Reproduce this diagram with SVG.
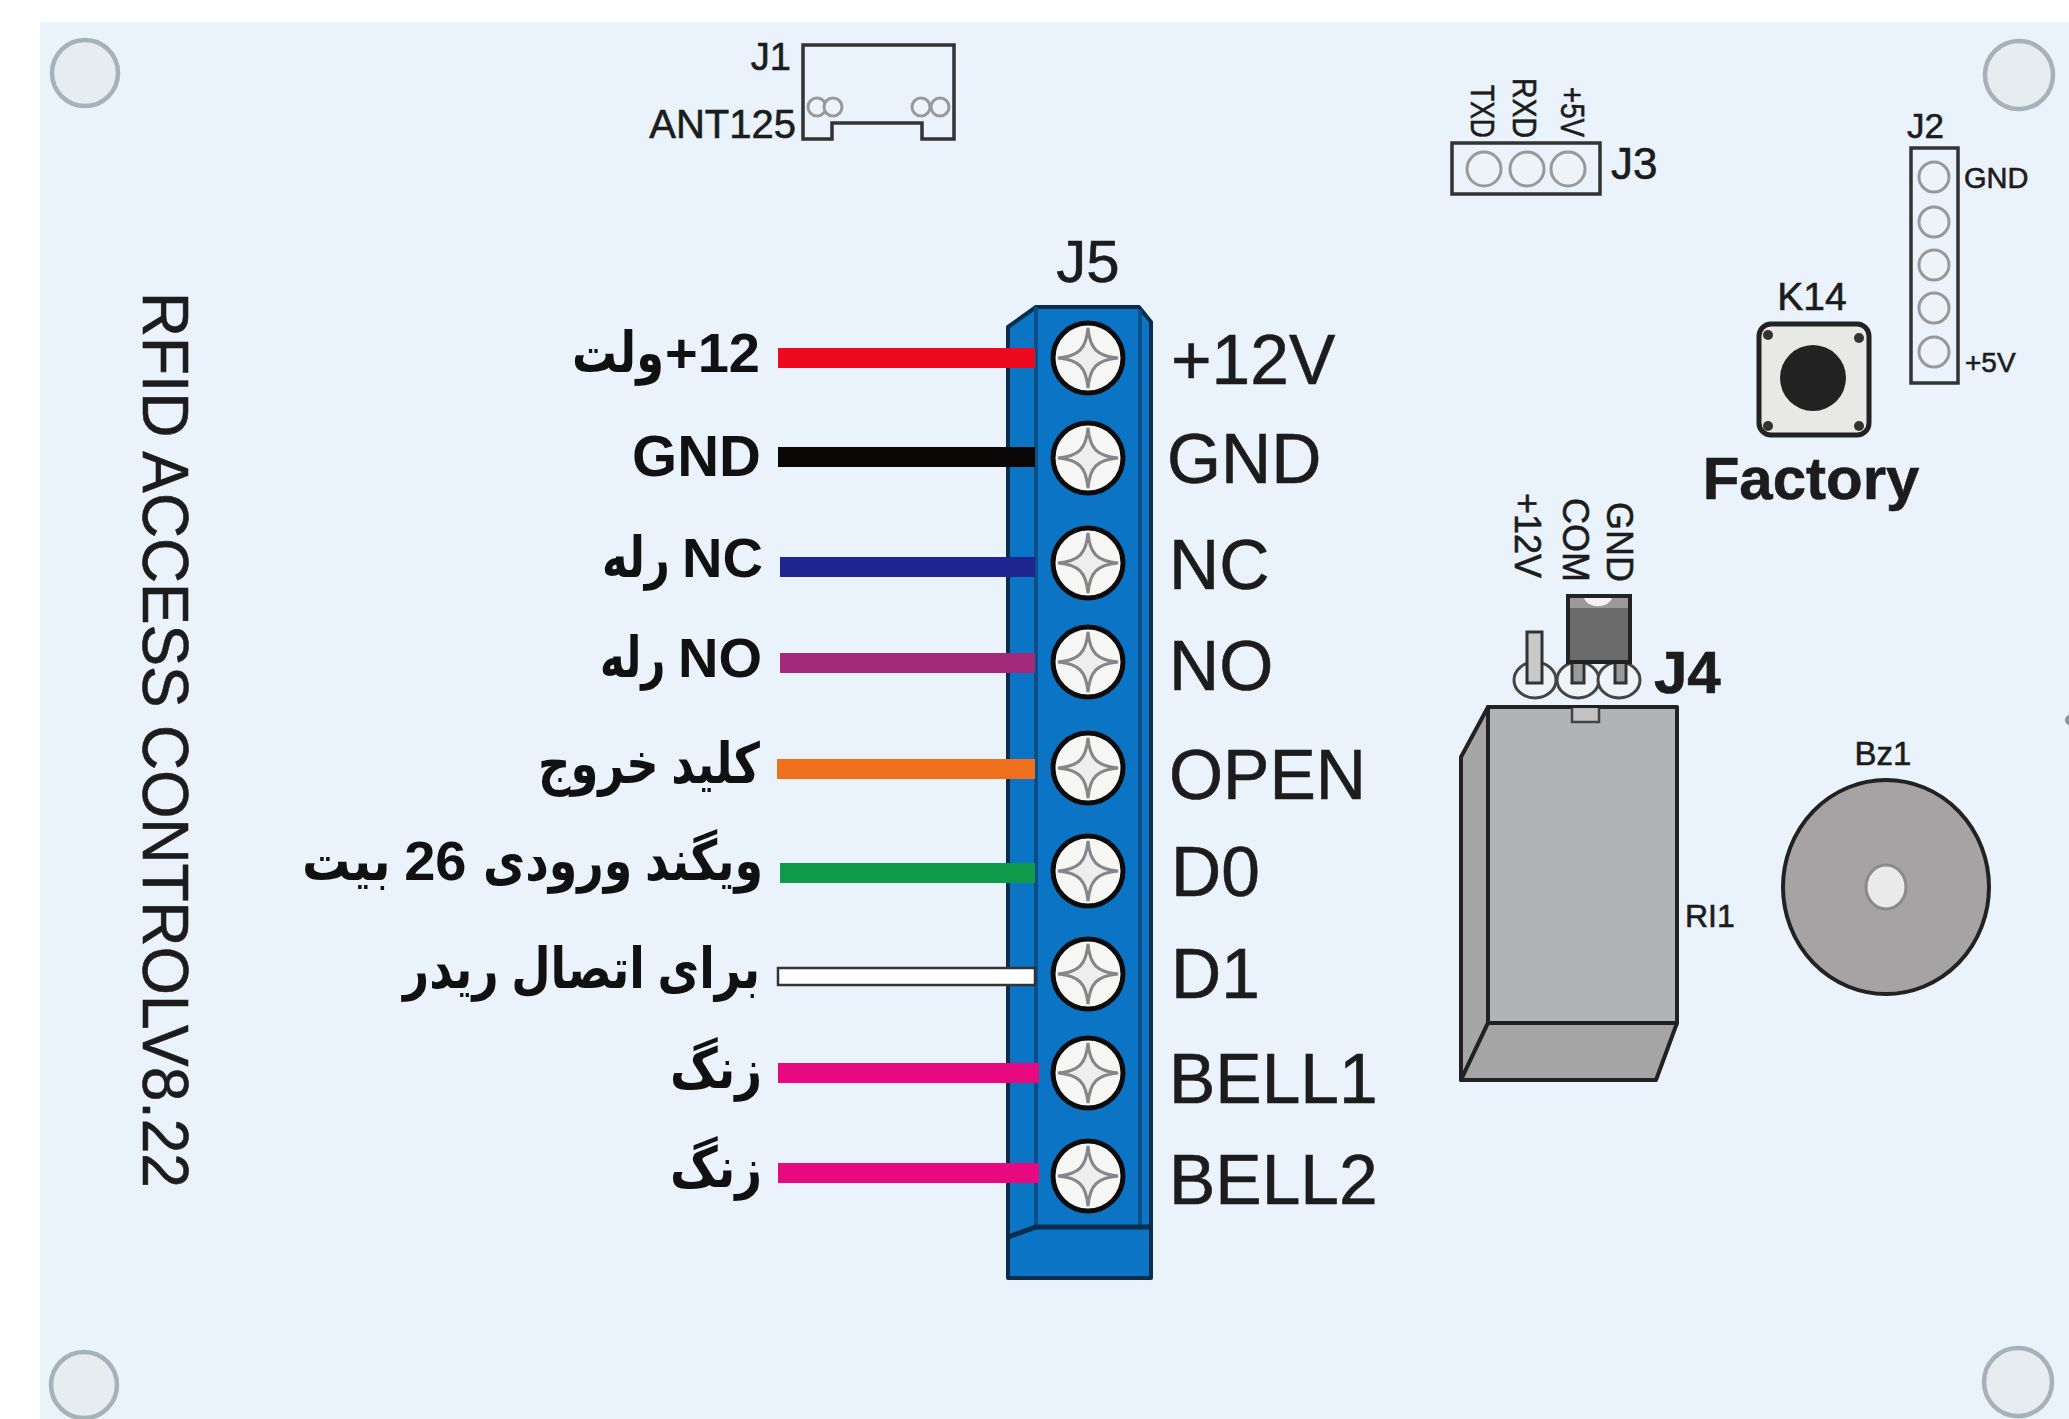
<svg xmlns="http://www.w3.org/2000/svg" width="2069" height="1419" viewBox="0 0 2069 1419">
<style>
text{font-family:"Liberation Sans","DejaVu Sans",sans-serif;fill:#1c1c1c;stroke:#1c1c1c;stroke-width:.6}
.term{font-size:69.5px}
.fa{font-size:56px;font-weight:bold;direction:rtl;text-anchor:start;fill:#111;stroke:none;font-family:"Liberation Sans","DejaVu Sans",sans-serif}
.hole{fill:#e6ecef;stroke:#a5b3b8;stroke-width:4.5}
.pcb{fill:none;stroke:#333;stroke-width:3.5}
.pin{fill:#eef3f8;stroke:#999;stroke-width:3}
.wire{stroke-width:20;fill:none}
.pad{fill:#eef3f8;stroke:#444;stroke-width:3}
.dark{fill:#6b6b6b;stroke:#222;stroke-width:4}
.edge{stroke:#222;stroke-width:4;stroke-linejoin:round}
</style>
<defs>
<g id="screw">
<circle r="35" fill="#f6f6f4" stroke="#0b0b0b" stroke-width="5"/>
<path d="M0-30C2-9 9-2 30 0C9 2 2 9 0 30C-2 9-9 2-30 0C-9-2-2-9 0-30Z" fill="#eeeeee" stroke="#85858a" stroke-width="3"/>
</g>
</defs>
<rect id="background" width="2069" height="1419" fill="#fff"/>
<rect id="board" x="40" y="22" width="2029" height="1397" fill="#eaf2fb"/>
<g id="mount-holes">
<circle class="hole" cx="85" cy="73" r="33"/>
<circle class="hole" cx="2019" cy="75" r="34"/>
<circle class="hole" cx="84" cy="1385" r="33"/>
<circle class="hole" cx="2018" cy="1382" r="34"/>
<circle cx="2070" cy="720" r="5" fill="#8a949a"/>
</g>
<text id="board-title" transform="translate(143 292) rotate(90)" font-size="64" textLength="896" lengthAdjust="spacingAndGlyphs">RFID ACCESS CONTROLV8.22</text>

<g id="J1">
<path class="pcb" d="M803 45H954V139H922V123H832V139H803Z"/>
<circle class="pin" cx="817" cy="107" r="9"/><circle class="pin" cx="833" cy="107" r="9"/>
<circle class="pin" cx="921" cy="107" r="9"/><circle class="pin" cx="940" cy="107" r="9"/>
<text x="791" y="70" font-size="38" text-anchor="end">J1</text>
<text x="796" y="138" font-size="40" text-anchor="end">ANT125</text>
</g>

<g id="J3">
<rect class="pcb" x="1452" y="143" width="148" height="51"/>
<circle class="pin" cx="1484" cy="169" r="17"/><circle class="pin" cx="1527" cy="169" r="17"/><circle class="pin" cx="1568" cy="169" r="17"/>
<text transform="translate(1471 85) rotate(90)" font-size="34" textLength="53" lengthAdjust="spacingAndGlyphs">TXD</text>
<text transform="translate(1513 78) rotate(90)" font-size="34" textLength="60" lengthAdjust="spacingAndGlyphs">RXD</text>
<text transform="translate(1561 87) rotate(90)" font-size="34" textLength="50" lengthAdjust="spacingAndGlyphs">+5V</text>
<text x="1611" y="179" font-size="44">J3</text>
</g>

<g id="J2">
<rect class="pcb" x="1911" y="148" width="47" height="235"/>
<circle class="pin" cx="1934" cy="177" r="15"/><circle class="pin" cx="1934" cy="222" r="15"/><circle class="pin" cx="1934" cy="265" r="15"/><circle class="pin" cx="1934" cy="308" r="15"/><circle class="pin" cx="1934" cy="352" r="15"/>
<text x="1907" y="138" font-size="35">J2</text>
<text x="1964" y="188" font-size="29">GND</text>
<text x="1965" y="372" font-size="28">+5V</text>
</g>

<g id="K14">
<text x="1812" y="310" font-size="39" text-anchor="middle">K14</text>
<rect x="1759" y="324" width="110" height="111" rx="12" fill="#e8e8e6" stroke="#222" stroke-width="5"/>
<circle cx="1813" cy="378" r="33" fill="#222"/>
<circle cx="1768" cy="335" r="5" fill="#333"/><circle cx="1859" cy="338" r="5" fill="#333"/>
<circle cx="1768" cy="426" r="5" fill="#333"/><circle cx="1859" cy="426" r="5" fill="#333"/>
<text x="1811" y="499" font-size="60" font-weight="bold" text-anchor="middle">Factory</text>
</g>

<g id="J4">
<text transform="translate(1515 493) rotate(90)" font-size="36">+12V</text>
<text transform="translate(1563 498) rotate(90)" font-size="36">COM</text>
<text transform="translate(1607 502) rotate(90)" font-size="36">GND</text>
<ellipse class="pad" cx="1535" cy="680" rx="21" ry="18"/>
<ellipse class="pad" cx="1578" cy="680" rx="21" ry="18"/>
<ellipse class="pad" cx="1619" cy="680" rx="21" ry="18"/>
<rect x="1527" y="632" width="15" height="51" fill="#c9c9c9" stroke="#333" stroke-width="3"/>
<rect x="1572" y="660" width="12" height="23" fill="#9a9a9a" stroke="#333" stroke-width="3"/>
<rect x="1615" y="660" width="11" height="23" fill="#9a9a9a" stroke="#333" stroke-width="3"/>
<rect class="dark" x="1568" y="596" width="62" height="66"/>
<rect x="1570" y="598" width="58" height="10" fill="#9a9a9a"/>
<path d="M1584 598H1612C1608 609 1588 609 1584 598Z" fill="#f2f2f2"/>
<text x="1654" y="693" font-size="60" font-weight="bold">J4</text>
</g>

<g id="relay">
<path class="edge" d="M1488 707L1461 757V1080L1488 1023Z" fill="#a6a6a6"/>
<path class="edge" d="M1488 1023H1677L1656 1080H1461Z" fill="#a6a5a5"/>
<rect class="edge" x="1488" y="707" width="189" height="316" fill="#b1b3b6"/>
<path d="M1572 708V722H1599V708" fill="#c2c2c2" stroke="#444" stroke-width="2.5"/>
<text x="1685" y="927" font-size="32">RI1</text>
</g>

<g id="buzzer">
<text x="1883" y="765" font-size="33" text-anchor="middle">Bz1</text>
<ellipse cx="1886" cy="887" rx="103" ry="107" fill="#a5a3a3" stroke="#222" stroke-width="4"/>
<ellipse cx="1886" cy="887" rx="20" ry="22" fill="#eaeaea" stroke="#8a8a8a" stroke-width="3"/>
</g>

<g id="J5">
<text x="1088" y="282" font-size="60" text-anchor="middle">J5</text>
<path d="M1008 327L1036 307H1139L1151 322V1278H1008Z" fill="#0b74c4" stroke="#0a2d4d" stroke-width="4" stroke-linejoin="round"/>
<path d="M1036 307V1227M1140 310V1227" fill="none" stroke="#0a4f87" stroke-width="4"/>
<path d="M1008 1237L1036 1227H1151" fill="none" stroke="#0a2d4d" stroke-width="5"/>
</g>

<g id="connectors">
<line class="wire" x1="778" y1="358" x2="1035" y2="358" stroke="#ee0a1e"/>
<line class="wire" x1="778" y1="457" x2="1035" y2="457" stroke="#0b0606"/>
<line class="wire" x1="780" y1="567" x2="1035" y2="567" stroke="#1f2590"/>
<line class="wire" x1="780" y1="663" x2="1035" y2="663" stroke="#a32a7a"/>
<line class="wire" x1="777" y1="769" x2="1035" y2="769" stroke="#f0701e"/>
<line class="wire" x1="780" y1="873" x2="1035" y2="873" stroke="#0e9a48"/>
<rect x="778" y="968" width="257" height="17" fill="#fff" stroke="#333" stroke-width="2.5"/>
<line class="wire" x1="778" y1="1073" x2="1039" y2="1073" stroke="#e6097f"/>
<line class="wire" x1="778" y1="1173" x2="1039" y2="1173" stroke="#e6097f"/>
</g>

<g id="term-12v"><use href="#screw" x="1088" y="358"/><text class="term" x="1171" y="384">+12V</text><text class="fa" y="372"><tspan x="760">12+</tspan><tspan x="664" textLength="92" lengthAdjust="spacingAndGlyphs">ولت</tspan></text></g>
<g id="term-gnd"><use href="#screw" x="1088" y="458"/><text class="term" x="1167" y="483">GND</text><text class="fa" x="761" y="476" style="font-size:58px">GND</text></g>
<g id="term-nc"><use href="#screw" x="1088" y="563"/><text class="term" x="1169" y="589">NC</text><text class="fa" y="577"><tspan x="763">NC</tspan><tspan x="682" textLength="80" lengthAdjust="spacingAndGlyphs"> رله</tspan></text></g>
<g id="term-no"><use href="#screw" x="1088" y="662"/><text class="term" x="1169" y="690">NO</text><text class="fa" y="677"><tspan x="762">NO</tspan><tspan x="677" textLength="77" lengthAdjust="spacingAndGlyphs"> رله</tspan></text></g>
<g id="term-open"><use href="#screw" x="1088" y="768"/><text class="term" x="1169" y="799">OPEN</text><text class="fa" x="760" y="783" textLength="222" lengthAdjust="spacingAndGlyphs">کلید خروج</text></g>
<g id="term-d0"><use href="#screw" x="1088" y="871"/><text class="term" x="1171" y="896">D0</text><text class="fa" y="880"><tspan x="763" textLength="280" lengthAdjust="spacingAndGlyphs">ویگند ورودی</tspan><tspan x="482"> 26</tspan><tspan x="404" textLength="102" lengthAdjust="spacingAndGlyphs"> بیت</tspan></text></g>
<g id="term-d1"><use href="#screw" x="1088" y="974"/><text class="term" x="1171" y="998">D1</text><text class="fa" x="760" y="988" textLength="357" lengthAdjust="spacingAndGlyphs">برای اتصال ریدر</text></g>
<g id="term-bell1"><use href="#screw" x="1088" y="1073"/><text class="term" x="1169" y="1103">BELL1</text><text class="fa" x="762" y="1088" textLength="92" lengthAdjust="spacingAndGlyphs">زنگ</text></g>
<g id="term-bell2"><use href="#screw" x="1088" y="1176"/><text class="term" x="1169" y="1204">BELL2</text><text class="fa" x="762" y="1187" textLength="92" lengthAdjust="spacingAndGlyphs">زنگ</text></g>
</svg>
